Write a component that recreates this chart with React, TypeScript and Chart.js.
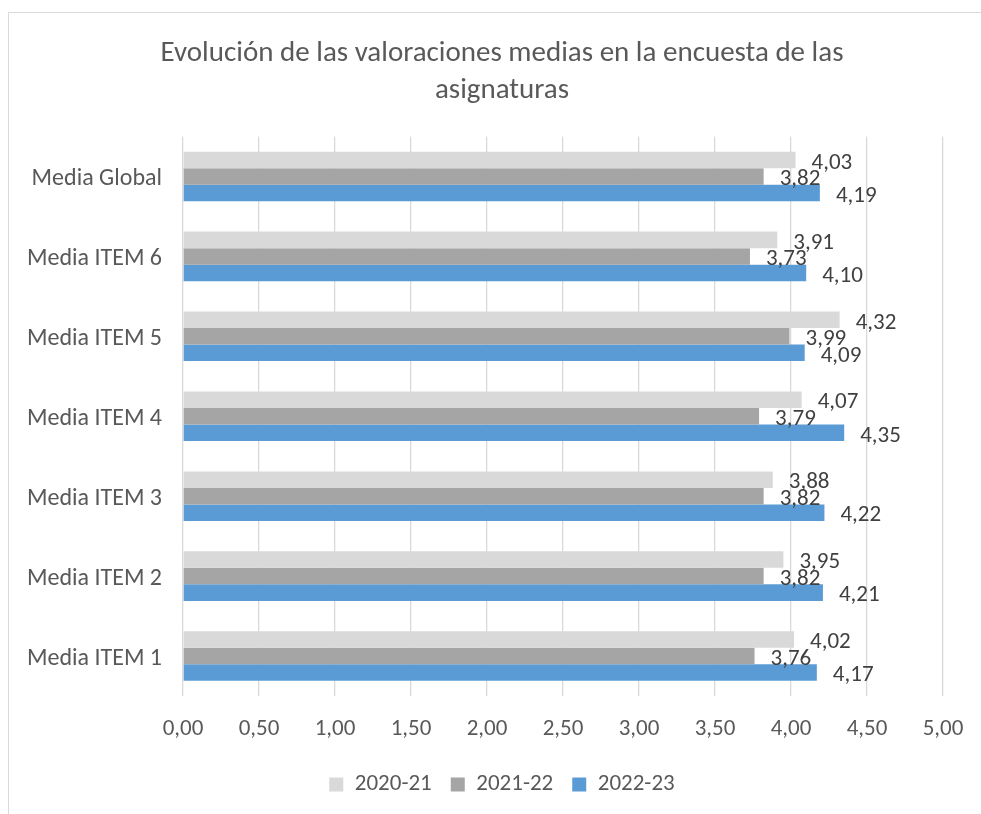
import React, { useEffect, useRef } from "react";
import { Chart, registerables } from "chart.js";

Chart.register(...registerables);

const categories = [
  "Media Global",
  "Media ITEM 6",
  "Media ITEM 5",
  "Media ITEM 4",
  "Media ITEM 3",
  "Media ITEM 2",
  "Media ITEM 1",
];
const series2020 = [4.03, 3.91, 4.32, 4.07, 3.88, 3.95, 4.02];
const series2021 = [3.82, 3.73, 3.99, 3.79, 3.82, 3.82, 3.76];
const series2022 = [4.19, 4.1, 4.09, 4.35, 4.22, 4.21, 4.17];
const seriesNames = ["2020-21", "2021-22", "2022-23"];
const titleLines = ["Evolución de las valoraciones medias en la encuesta de las", "asignaturas"];

const FONT = "Carlito, Calibri, Lato, sans-serif";

const fmt = (v: number) => v.toFixed(2).replace(".", ",");

const dataLabelPlugin = {
  id: "dataLabels",
  afterDatasetsDraw(chart: any) {
    const ctx = chart.ctx;
    ctx.save();
    ctx.font = `23px ${FONT}`;
    ctx.fillStyle = "#404040";
    ctx.textAlign = "left";
    ctx.textBaseline = "middle";
    chart.data.datasets.forEach((ds: any, di: number) => {
      const meta = chart.getDatasetMeta(di);
      meta.data.forEach((bar: any, i: number) => {
        ctx.fillText(fmt(ds.data[i]), bar.x + 16, bar.y + 3);
      });
    });
    ctx.restore();
  },
};

export default function App() {
  const ref = useRef<HTMLCanvasElement>(null);
  useEffect(() => {
    if (!ref.current) return;
    const chart = new Chart(ref.current, {
      type: "bar",
      data: {
        labels: categories,
        datasets: [
          { label: seriesNames[0], data: series2020, backgroundColor: "#D9D9D9", yAxisID: "y" },
          { label: seriesNames[1], data: series2021, backgroundColor: "#A5A5A5", yAxisID: "y" },
          { label: seriesNames[2], data: series2022, backgroundColor: "#5B9BD5", yAxisID: "y" },
        ],
      },
      options: {
        indexAxis: "y",
        animation: false,
        responsive: true,
        maintainAspectRatio: false,
        datasets: { bar: { categoryPercentage: 0.62, barPercentage: 1.0, borderWidth: 0 } },
        layout: { padding: { left: 0, right: 0, top: 0, bottom: 13 } },
        scales: {
          x: {
            min: 0,
            max: 5,
            grid: { color: "#D9D9D9", lineWidth: 1.3, drawTicks: false },
            border: { display: false },
            ticks: {
              stepSize: 0.5,
              padding: 19,
              color: "#595959",
              font: { family: FONT, size: 23 },
              callback: (v: any) => fmt(Number(v)),
            },
            afterFit: (s: any) => {
              s.height = 58;
            },
          },
          y: {
            grid: { display: false, drawTicks: false },
            border: { display: false },
            ticks: {
              padding: 21,
              labelOffset: 3,
              color: "#595959",
              font: { family: FONT, size: 24 },
            },
            afterFit: (s: any) => {
              s.width = 174;
            },
          },
          yRight: {
            type: "category",
            position: "right",
            labels: categories,
            grid: { display: false, drawTicks: false },
            border: { display: false },
            ticks: { display: false },
            afterFit: (s: any) => {
              s.width = 52;
            },
          },
        },
        plugins: {
          title: {
            display: true,
            text: titleLines,
            color: "#595959",
            font: { family: FONT, size: 29, weight: "300", lineHeight: 1.25 },
            padding: { top: 23, bottom: 28 },
          },
          legend: {
            position: "bottom",
            labels: {
              boxWidth: 14,
              boxHeight: 14,
              padding: 19,
              color: "#595959",
              font: { family: FONT, size: 23 },
            },
          },
          tooltip: { enabled: false },
        },
      },
      plugins: [dataLabelPlugin],
    });
    return () => chart.destroy();
  }, []);

  return (
    <div
      style={{
        position: "fixed",
        left: 8,
        top: 12,
        width: 986,
        height: 806,
        border: "1px solid #D9D9D9",
        background: "#fff",
      }}
    >
      <div style={{ position: "relative", width: 986, height: 806 }}>
        <canvas ref={ref} />
      </div>
    </div>
  );
}
